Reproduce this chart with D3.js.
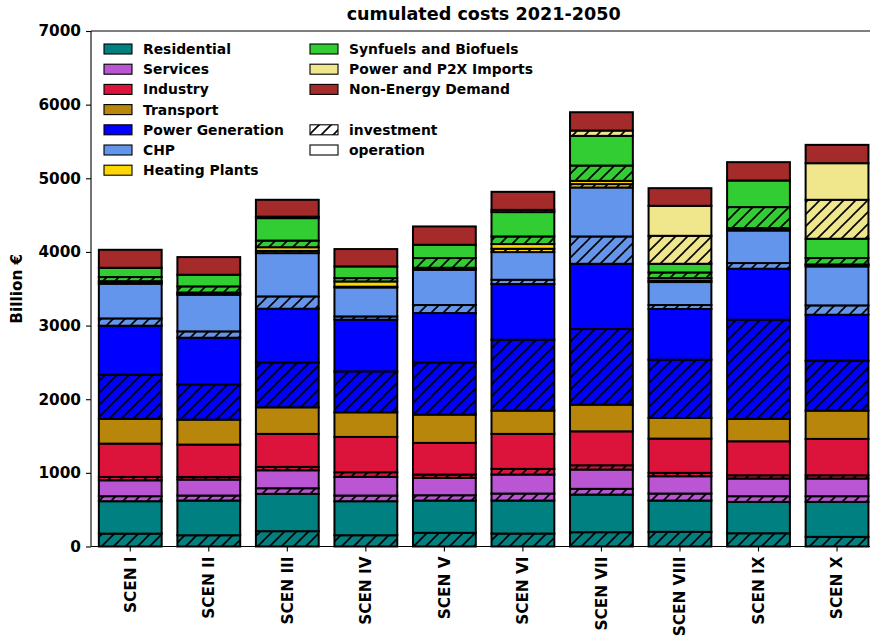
<!DOCTYPE html>
<html>
<head>
<meta charset="utf-8">
<script src="https://cdn.jsdelivr.net/npm/d3@7"></script>
<style>
  html, body { margin: 0; padding: 0; background: #fff; overflow: hidden; }
  svg text { font-family: "DejaVu Sans", sans-serif; font-weight: bold; fill: #000; }
</style>
</head>
<body>
<svg id="chart" width="870" height="644"></svg>
<script>
// Scenarios on the x axis
const scenarios = ["SCEN I", "SCEN II", "SCEN III", "SCEN IV", "SCEN V",
                   "SCEN VI", "SCEN VII", "SCEN VIII", "SCEN IX", "SCEN X"];

// Cumulated costs 2021-2050 in billion €, split into investment and operation
const residentialInv  = [175, 153, 208, 153, 186, 176, 194, 199, 180, 131];
const residentialOp   = [440, 471, 507, 462, 438, 448, 511, 425, 426, 475];
const servicesInv     = [68, 68, 76, 77, 72, 95, 78, 95, 77, 77];
const servicesOp      = [216, 217, 244, 253, 236, 258, 262, 235, 240, 240];
const industryInv     = [46, 36, 46, 63, 45, 77, 58, 46, 44, 44];
const industryOp      = [452, 439, 448, 480, 430, 475, 461, 465, 462, 494];
const transportInv    = [0, 0, 0, 0, 0, 0, 0, 0, 0, 0];
const transportOp     = [335, 339, 361, 334, 384, 316, 362, 281, 303, 384];
const powerGenInv     = [601, 479, 610, 556, 709, 963, 1027, 791, 1348, 678];
const powerGenOp      = [665, 633, 729, 702, 670, 756, 886, 688, 692, 624];
const chpInv          = [99, 86, 167, 44, 109, 58, 371, 54, 77, 127];
const chpOp           = [471, 498, 588, 394, 479, 376, 665, 312, 442, 529];
const heatingInv      = [15, 10, 30, 10, 12, 45, 46, 20, 28, 22];
const heatingOp       = [20, 20, 50, 71, 15, 64, 44, 34, 5, 5];
const synfuelsInv     = [56, 83, 90, 46, 132, 103, 208, 76, 285, 87];
const synfuelsOp      = [126, 158, 305, 158, 180, 331, 403, 118, 361, 262];
const importsInv      = [0, 0, 20, 0, 0, 30, 72, 380, 0, 529];
const importsOp       = [0, 0, 0, 0, 0, 0, 0, 407, 0, 497];
const nonEnergyInv    = [0, 0, 0, 0, 0, 0, 0, 0, 0, 0];
const nonEnergyOp     = [244, 240, 229, 236, 249, 245, 249, 240, 249, 249];

// Y axis ticks
const yTicks = [0, 1000, 2000, 3000, 4000, 5000, 6000, 7000];

// Sectors in stacking order (bottom to top)
const sectors = [
  { name: "Residential",            color: "#008080", inv: residentialInv, op: residentialOp },
  { name: "Services",               color: "#BA55D3", inv: servicesInv,    op: servicesOp },
  { name: "Industry",               color: "#DC143C", inv: industryInv,    op: industryOp },
  { name: "Transport",              color: "#B8860B", inv: transportInv,   op: transportOp },
  { name: "Power Generation",       color: "#0000FF", inv: powerGenInv,    op: powerGenOp },
  { name: "CHP",                    color: "#6495ED", inv: chpInv,         op: chpOp },
  { name: "Heating Plants",         color: "#FFD700", inv: heatingInv,     op: heatingOp },
  { name: "Synfuels and Biofuels",  color: "#32CD32", inv: synfuelsInv,    op: synfuelsOp },
  { name: "Power and P2X Imports",  color: "#F0E68C", inv: importsInv,     op: importsOp },
  { name: "Non-Energy Demand",      color: "#A52A2A", inv: nonEnergyInv,   op: nonEnergyOp }
];

const svg = d3.select("#chart");
const plot = { left: 91, right: 876.3, top: 31, bottom: 546.5 };

// Hatch pattern for investment parts
const defs = svg.append("defs");
const hatch = defs.append("pattern")
  .attr("id", "hatch")
  .attr("patternUnits", "userSpaceOnUse")
  .attr("width", 12).attr("height", 12);
hatch.append("path")
  .attr("d", "M-3,3 L3,-3 M0,12 L12,0 M9,15 L15,9")
  .attr("stroke", "#000").attr("stroke-width", 1.6).attr("fill", "none");

const x = d3.scaleBand()
  .domain(scenarios)
  .range([plot.left, plot.right])
  .paddingInner(0.2)
  .paddingOuter(0.1);

const y = d3.scaleLinear()
  .domain([0, 7000])
  .range([plot.bottom, plot.top]);

// Build stacked segments: each sector contributes investment then operation
const segments = [];
scenarios.forEach((s, i) => {
  let base = 0;
  sectors.forEach(sec => {
    [["inv", sec.inv[i]], ["op", sec.op[i]]].forEach(([kind, v]) => {
      segments.push({ scen: s, color: sec.color, kind, y0: base, y1: base + v });
      base += v;
    });
  });
});

const bars = svg.append("g");
segments.filter(d => d.y1 > d.y0).forEach(d => {
  const g = bars.append("g");
  const rx = x(d.scen), rw = x.bandwidth();
  const ry = y(d.y1), rh = y(d.y0) - y(d.y1);
  g.append("rect").attr("x", rx).attr("y", ry).attr("width", rw).attr("height", rh)
    .attr("fill", d.color);
  if (d.kind === "inv") {
    g.append("rect").attr("x", rx).attr("y", ry).attr("width", rw).attr("height", rh)
      .attr("fill", "url(#hatch)");
  }
  g.append("rect").attr("x", rx).attr("y", ry).attr("width", rw).attr("height", rh)
    .attr("fill", "none").attr("stroke", "#000").attr("stroke-width", 2);
});

// Spines
const spines = svg.append("g").attr("stroke", "#000").attr("stroke-width", 1.1).attr("fill", "none");
spines.append("line").attr("x1", plot.left).attr("x2", plot.left).attr("y1", plot.top).attr("y2", plot.bottom);
spines.append("line").attr("x1", plot.left).attr("x2", plot.right).attr("y1", plot.top).attr("y2", plot.top);
spines.append("line").attr("x1", plot.left).attr("x2", plot.right).attr("y1", plot.bottom).attr("y2", plot.bottom);
spines.append("line").attr("x1", plot.right).attr("x2", plot.right).attr("y1", plot.top).attr("y2", plot.bottom);

// Y axis
const yAxis = svg.append("g")
  .attr("transform", `translate(${plot.left},0)`)
  .call(d3.axisLeft(y).tickValues(yTicks).tickSize(5).tickPadding(5).tickFormat(d3.format("d")));
yAxis.select(".domain").remove();
yAxis.selectAll("text").style("font-size", "15.3px").style("font-family", "DejaVu Sans").style("font-weight", "bold");
yAxis.selectAll("line").attr("stroke-width", 1.1);

// X axis
const xAxis = svg.append("g")
  .attr("transform", `translate(0,${plot.bottom})`)
  .call(d3.axisBottom(x).tickSize(5).tickPadding(5));
xAxis.select(".domain").remove();
xAxis.selectAll("line").attr("stroke-width", 1.1);
xAxis.selectAll("text")
  .style("font-size", "15.3px").style("font-family", "DejaVu Sans").style("font-weight", "bold")
  .attr("transform", "rotate(-90)")
  .attr("text-anchor", "end")
  .attr("x", -10)
  .attr("y", 0)
  .attr("dy", "0.35em");

// Title and axis label
svg.append("text")
  .attr("x", (plot.left + plot.right) / 2).attr("y", 20)
  .attr("text-anchor", "middle")
  .style("font-size", "17.6px")
  .text("cumulated costs 2021-2050");

svg.append("text")
  .attr("transform", `translate(22,${(plot.top + plot.bottom) / 2}) rotate(-90)`)
  .attr("text-anchor", "middle")
  .style("font-size", "15.3px")
  .text("Billion €");

// Legend
const legend = svg.append("g");
const rowH = 20.2;
const col1 = sectors.slice(0, 7);
const col2 = sectors.slice(7);
function legendItem(px, py, fill, label, hatched) {
  legend.append("rect").attr("x", px).attr("y", py - 5).attr("width", 28).attr("height", 10)
    .attr("fill", fill);
  if (hatched) {
    legend.append("rect").attr("x", px).attr("y", py - 5).attr("width", 28).attr("height", 10)
      .attr("fill", "url(#hatch)");
  }
  legend.append("rect").attr("x", px).attr("y", py - 5).attr("width", 28).attr("height", 10)
    .attr("fill", "none").attr("stroke", "#000").attr("stroke-width", 1.1);
  legend.append("text").attr("x", px + 39).attr("y", py).attr("dy", "0.36em")
    .style("font-size", "13.9px").text(label);
}
col1.forEach((s, i) => legendItem(104, 49 + i * rowH, s.color, s.name, false));
col2.forEach((s, i) => legendItem(310, 49 + i * rowH, s.color, s.name, false));
legendItem(310, 49 + 4 * rowH, "#fff", "investment", true);
legendItem(310, 49 + 5 * rowH, "#fff", "operation", false);
</script>
</body>
</html>
